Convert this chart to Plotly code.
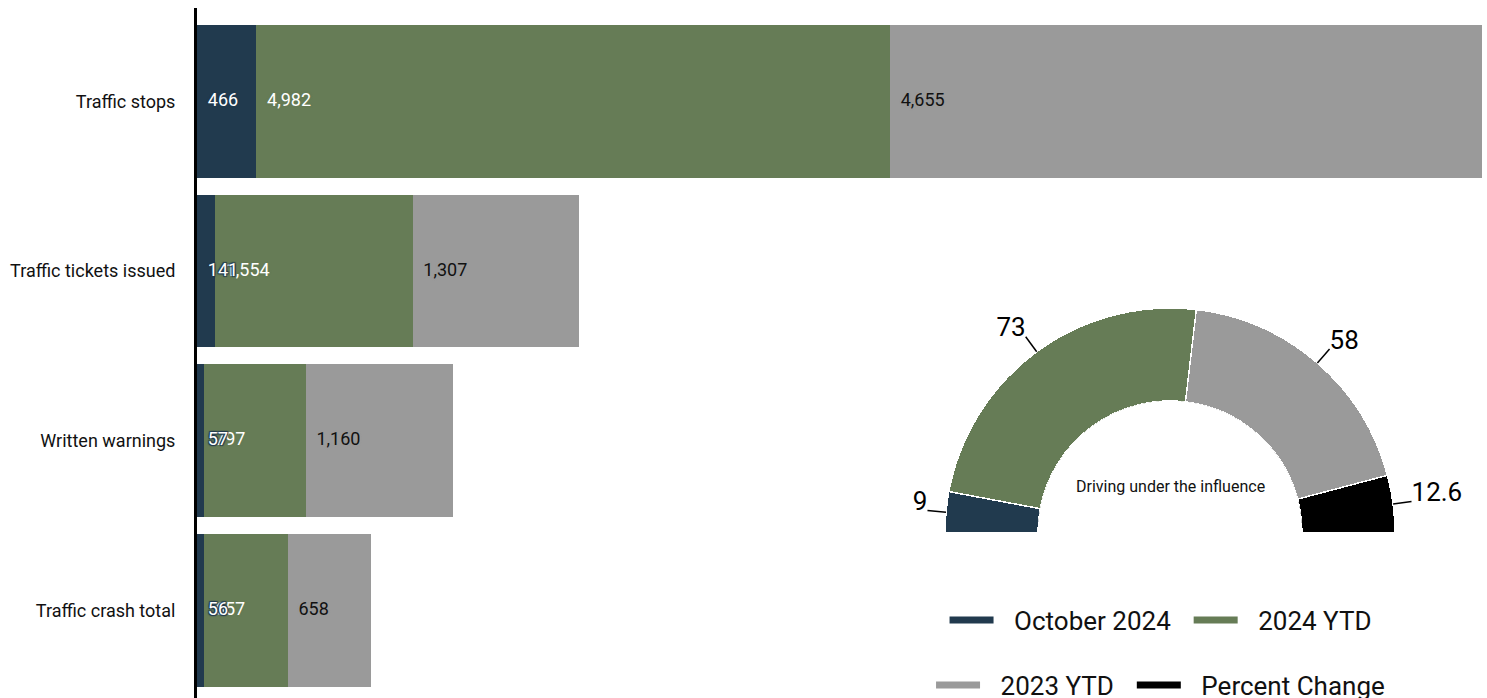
import plotly.graph_objects as go
import numpy as np

# ---- data ----
categories = ["Traffic stops", "Traffic tickets issued", "Written warnings", "Traffic crash total"]
oct_2024 = [466, 141, 57, 56]
ytd_2024 = [4982, 1554, 797, 657]
ytd_2023 = [4655, 1307, 1160, 658]

dui_title = "Driving under the influence"
dui_labels = ["October 2024", "2024 YTD", "2023 YTD", "Percent Change"]
dui_values = [9, 73, 58, 12.6]

legend_names = ["October 2024", "2024 YTD", "2023 YTD", "Percent Change"]

# ---- styles ----
NAVY = "#213a4e"
GREEN = "#667c56"
GRAY = "#9a9a9a"
BLACK = "#000000"
colors = [NAVY, GREEN, GRAY, BLACK]
FONT = "Roboto"
NB = "\u00a0"


def halo(c):
    return ", ".join(f"{dx}px {dy}px 1px {c}" for dx, dy in
                     [(1, 1), (-1, -1), (1, -1), (-1, 1)])


fig = go.Figure()

series = [("October 2024", oct_2024, NAVY, "white"),
          ("2024 YTD", ytd_2024, GREEN, "white"),
          ("2023 YTD", ytd_2023, GRAY, "#111111")]
for name, vals, col, tcol in series:
    fig.add_trace(go.Bar(
        y=categories, x=vals, name=name, orientation="h",
        marker=dict(color=col, line=dict(width=0)),
        showlegend=False, hoverinfo="x+y",
    ))

# value labels on top of all bars (anchored at each segment's start)
bases = np.zeros(len(categories))
label_layers = []
for name, vals, col, tcol in series:
    label_layers.append((np.array(bases), vals, col, tcol))
    bases = bases + np.array(vals)
for base, vals, col, tcol in reversed(label_layers):
    fig.add_trace(go.Scatter(
        x=base, y=categories, mode="text",
        text=[NB + NB + "\u200a" + f"{v:,}" for v in vals], textposition="middle right",
        textfont=dict(family=FONT, size=18, color=tcol, shadow=halo(col)),
        showlegend=False, hoverinfo="skip", cliponaxis=False,
    ))

# ---- half donut via barpolar ----
vals = np.array(dui_values, dtype=float)
total = vals.sum()
widths = vals / total * 180.0
centers = np.cumsum(vals) / total * 180.0 - widths / 2.0

HOLE = 0.528
RMAX = 1.269
R_PX = 250.0  # outer radius of the polar subplot in px (domain 500 x 250)
fig.add_trace(go.Barpolar(
    r=[1] * len(vals), theta=centers, width=widths,
    marker=dict(color=colors, line=dict(color="white", width=1.5)),
    subplot="polar", showlegend=False, hovertext=dui_labels,
    hoverinfo="text",
))

# leader lines + value labels
r_edge = 1.0
r_end = 1.20
lr, lt = [], []
for c in centers:
    lr += [r_edge, r_end, None]
    lt += [c, c, None]
fig.add_trace(go.Scatterpolar(
    r=lr, theta=lt, mode="lines", line=dict(color="black", width=1.5),
    subplot="polar", showlegend=False, hoverinfo="skip", cliponaxis=False,
))


# label anchors: leader end nudged 6 px down
def r_to_px(r):
    return R_PX * (HOLE + (1 - HOLE) * r / RMAX)


def px_to_r(p):
    return (p / R_PX - HOLE) / (1 - HOLE) * RMAX


p_end = r_to_px(r_end)
tr, tt = [], []
for c in centers:
    a = np.deg2rad(c)
    X, Y = -p_end * np.cos(a), p_end * np.sin(a) - 6.0
    tr.append(px_to_r(np.hypot(X, Y)))
    tt.append(np.rad2deg(np.arctan2(Y, -X)))
positions = ["top left" if c < 90 else "top right" for c in centers]
fig.add_trace(go.Scatterpolar(
    r=tr, theta=tt, mode="text",
    text=[f"{v:g}" for v in dui_values], textposition=positions,
    textfont=dict(family=FONT, size=26, color="black"),
    subplot="polar", showlegend=False, hoverinfo="skip", cliponaxis=False,
))

# legend-only entries
for i, (nm, col) in enumerate(zip(legend_names, colors)):
    fig.add_trace(go.Scatter(
        x=[None], y=[None], mode="lines", name=NB + NB + "\u200a" + nm + NB + NB,
        line=dict(color=col, width=7),
        legend="legend" if i < 2 else "legend2",
    ))

fig.update_layout(
    width=1487, height=698,
    margin=dict(l=197, r=5, t=8, b=0, autoexpand=False),
    barmode="stack", bargap=0.1,
    paper_bgcolor="white", plot_bgcolor="white",
    font=dict(family=FONT, color="#111111"),
    xaxis=dict(range=[0, max(a + b + c for a, b, c in zip(oct_2024, ytd_2024, ytd_2023))],
               showgrid=False, zeroline=False, showticklabels=False, showline=False,
               fixedrange=True),
    yaxis=dict(range=[3.515, -0.55], showgrid=False, zeroline=False,
               showline=True, linecolor="black", linewidth=3,
               ticks="", ticklabelstandoff=15, automargin=False,
               tickfont=dict(family=FONT, size=18, color="#111111")),
    polar=dict(
        domain=dict(x=[0.5626, 0.9518], y=[0.2391, 0.6014]),
        sector=[0, 180], hole=HOLE, bgcolor="rgba(0,0,0,0)",
        radialaxis=dict(range=[0, RMAX], visible=False),
        angularaxis=dict(visible=False, rotation=180, direction="clockwise"),
    ),
    legend=dict(orientation="h", x=0.7549, xanchor="center", y=0.1130, yanchor="middle",
                traceorder="normal",
                font=dict(family=FONT, size=26, color="#111111"),
                itemwidth=44, bgcolor="rgba(0,0,0,0)"),
    legend2=dict(orientation="h", x=0.7549, xanchor="center", y=0.0188, yanchor="middle",
                 traceorder="normal",
                 font=dict(family=FONT, size=26, color="#111111"),
                 itemwidth=44, bgcolor="rgba(0,0,0,0)"),
    annotations=[dict(text=dui_title, x=0.7572, y=0.3058, xref="paper", yref="paper",
                      xanchor="center", yanchor="middle",
                      showarrow=False, font=dict(family=FONT, size=16, color="#111111"))],
)

fig.write_html("out.html", config={"displayModeBar": False},
               post_script="document.body.style.margin='0';document.body.style.overflow='hidden';")
